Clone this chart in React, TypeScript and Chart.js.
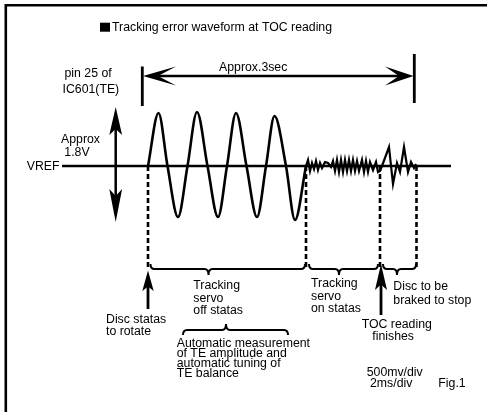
import React, { useEffect, useRef } from "react";
import { Chart, registerables } from "chart.js";

Chart.register(...registerables);

// ---- Data: time axis in diagram units, TE level relative to VREF (diagram units) ----
const sineTimes = [148, 158.5, 167.5, 178, 187.5, 197, 207.5, 218, 227, 236, 246.5, 257, 266, 274.5, 286, 295, 306];
const sineLevels = [0, 53, 0, -51, 0, 54, 0, -51, 0, 53, 0, -51, 0, 50, 0, -54, 0];

const servoTimes = [306, 308, 310, 312, 314, 316, 318, 320, 322, 325, 328, 331, 333, 335, 337, 339, 341, 343, 345, 347, 349, 351, 353, 355, 357, 359, 362, 364, 366, 368, 370, 373, 376, 378, 380, 382, 389, 393, 397, 400, 404, 408, 411, 414, 416];
const servoLevels = [0, 6, -5, 3, -3, 5, -4, 3, -2, 4, 3, -1, 5, -5, 6, -6, 6, -6, 6, -5, 6, -5, 6, -5, 5, -5, 6, -6, 5, -6, 4, -4, 4, -6, -5, 0, 19, -18, 3, -6, 19, -6, 4, -2, 2];

const vrefSpan = [62, 451];
const eventTimes = [148, 306, 380, 416.5];
const eventDepth = -102;
const periodSpan = [142.3, 414.3];

// ---- Text ----
const titleText = "Tracking error waveform at TOC reading";
const periodLabel = "Approx.3sec";
const signalLabel = ["pin 25 of", "IC601(TE)"];
const amplitudeLabel = ["Approx", "1.8V"];
const vrefLabel = "VREF";
const offLabel = ["Tracking", "servo", "off statas"];
const onLabel = ["Tracking", "servo", "on statas"];
const brakeLabel = ["Disc to be", "braked to stop"];
const startLabel = ["Disc statas", "to rotate"];
const finishLabel = ["TOC reading", "finishes"];
const autoLabel = ["Automatic measurement", "of TE amplitude and", "automatic tuning of", "TE balance"];
const scaleLabel = ["500mv/div", "2ms/div"];
const figLabel = "Fig.1";

// ---- Layout (diagram coordinates) ----
const TEXTS: [string, number, number][] = [
  [titleText, 112, 135],
  [periodLabel, 219, 95],
  [signalLabel[0], 64.5, 89.5],
  [signalLabel[1], 62.5, 73],
  [amplitudeLabel[0], 61, 22.7],
  [amplitudeLabel[1], 64.3, 10.3],
  [vrefLabel, 26.7, -4],
  [offLabel[0], 193.3, -123],
  [offLabel[1], 193.3, -135.5],
  [offLabel[2], 193.3, -147.5],
  [startLabel[0], 106, -157.3],
  [startLabel[1], 106, -168.5],
  [onLabel[0], 311, -121.3],
  [onLabel[1], 311, -133.5],
  [onLabel[2], 311, -145.7],
  [brakeLabel[0], 393.3, -124],
  [brakeLabel[1], 393.3, -138],
  [finishLabel[0], 361.7, -162.3],
  [finishLabel[1], 372.3, -174],
  [autoLabel[0], 176.7, -181.3],
  [autoLabel[1], 176.7, -191.3],
  [autoLabel[2], 176.7, -200.7],
  [autoLabel[3], 176.7, -210.7],
  [scaleLabel[0], 366.7, -210],
  [scaleLabel[1], 370, -221.3],
  [figLabel, 438.3, -221.3],
];

const annotate = {
  id: "annotate",
  afterDraw(chart: any) {
    const ctx = chart.ctx as CanvasRenderingContext2D;
    const xs = chart.scales.x;
    const ys = chart.scales.y;
    const X = (v: number) => xs.getPixelForValue(v);
    const Y = (v: number) => ys.getPixelForValue(v);
    const area = chart.chartArea;
    ctx.save();
    ctx.fillStyle = "#000";
    ctx.strokeStyle = "#000";

    // frame
    ctx.lineWidth = 2.6;
    ctx.beginPath();
    ctx.moveTo(area.left + 5.8, area.bottom);
    ctx.lineTo(area.left + 5.8, area.top + 5.3);
    ctx.lineTo(area.right, area.top + 5.3);
    ctx.stroke();

    // title bullet square
    ctx.fillRect(X(100), Y(143.3), X(110) - X(100), Y(134.3) - Y(143.3));

    // text
    ctx.font = '12.3px "Liberation Sans", Arial, sans-serif';
    ctx.textAlign = "left";
    ctx.textBaseline = "alphabetic";
    for (const [t, x, l] of TEXTS) ctx.fillText(t, X(x), Y(l));

    const poly = (pts: number[][]) => {
      ctx.beginPath();
      pts.forEach(([x, l], i) => (i ? ctx.lineTo(X(x), Y(l)) : ctx.moveTo(X(x), Y(l))));
      ctx.closePath();
      ctx.fill();
    };
    // period chevrons
    poly([[143, 90], [176, 99.5], [158, 90], [176, 80.5]]);
    poly([[413.5, 90], [385, 99.5], [399, 90], [385, 80.5]]);
    // amplitude arrowheads
    poly([[115.7, 59], [109.3, 31], [115.7, 37], [122.1, 31]]);
    poly([[115.7, -56], [109.3, -23], [115.7, -30], [122.1, -23]]);
    // event up arrows
    poly([[148, -104.5], [142.3, -125], [148, -120.5], [153.7, -125]]);
    poly([[381, -98], [375, -124], [381, -118.5], [387, -124]]);

    // braces
    const brace = (x1: number, x2: number, xt: number, l0: number, dir: number, w = 2) => {
      const y0 = Y(l0);
      const a = X(x1), b = X(x2), t = X(xt);
      const c = 4;
      ctx.lineWidth = w;
      ctx.beginPath();
      ctx.moveTo(a, y0 - dir * 5);
      ctx.quadraticCurveTo(a, y0, a + c, y0);
      ctx.lineTo(t - c, y0);
      ctx.quadraticCurveTo(t, y0, t, y0 + dir * 6);
      ctx.quadraticCurveTo(t, y0, t + c, y0);
      ctx.lineTo(b - c, y0);
      ctx.quadraticCurveTo(b, y0, b, y0 - dir * 5);
      ctx.stroke();
    };
    brace(150.5, 305, 208.5, -103, 1);
    brace(309, 378, 339, -103, 1);
    brace(383, 416, 397, -103, 1);
    brace(183, 288, 226, -164, -1);

    ctx.restore();
  },
};

const seg = (xs: number[], ls: number[]) => xs.map((x, i) => ({ x, y: ls[i] }));

export default function App() {
  const ref = useRef<HTMLCanvasElement>(null);
  useEffect(() => {
    const canvas = ref.current!;
    const line = (data: any[], extra: any = {}) => ({
      data,
      borderColor: "#000",
      backgroundColor: "#000",
      borderWidth: 2.5,
      pointRadius: 0,
      showLine: true,
      fill: false,
      tension: 0,
      ...extra,
    });
    const datasets: any[] = [
      line(seg(vrefSpan, [0, 0])),
      line(seg(sineTimes, sineLevels), { cubicInterpolationMode: "monotone", borderWidth: 2.6 }),
      line(seg(servoTimes, servoLevels), { borderWidth: 2.2, borderJoinStyle: "miter" }),
      ...eventTimes.map((t) => line(seg([t, t], [0, eventDepth]), { borderDash: [5, 3], borderWidth: 2.6 })),
      line(seg([periodSpan[0] + 8, periodSpan[1] - 8], [90, 90]), { borderWidth: 2.6 }),
      line(seg([periodSpan[0], periodSpan[0]], [99.5, 60]), { borderWidth: 2.8 }),
      line(seg([periodSpan[1], periodSpan[1]], [112, 63]), { borderWidth: 2.8 }),
      line(seg([115.7, 115.7], [50, -48]), { borderWidth: 2.5 }),
      line(seg([148, 148], [-143, -118]), { borderWidth: 2.8 }),
      line(seg([381, 381], [-149, -112]), { borderWidth: 2.8 }),
    ];
    const chart = new Chart(canvas, {
      type: "scatter",
      data: { datasets },
      options: {
        responsive: false,
        animation: false,
        devicePixelRatio: 1,
        events: [],
        layout: { padding: 0 },
        plugins: { legend: { display: false }, tooltip: { enabled: false }, title: { display: false } },
        scales: {
          x: { type: "linear", min: 0, max: 487, display: false },
          y: { type: "linear", min: -246, max: 166, display: false },
        },
      },
      plugins: [annotate],
    } as any);
    return () => chart.destroy();
  }, []);
  return (
    <div style={{ position: "absolute", left: 0, top: 0, width: 487, height: 412, background: "#fff" }}>
      <canvas ref={ref} width={487} height={412} style={{ display: "block" }} />
    </div>
  );
}
